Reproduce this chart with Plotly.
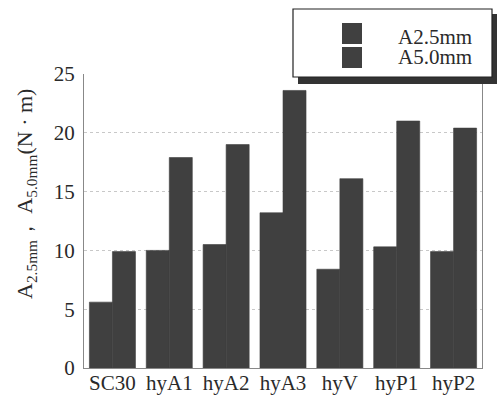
import plotly.graph_objects as go

categories = ["SC30", "hyA1", "hyA2", "hyA3", "hyV", "hyP1", "hyP2"]
a25 = [5.6, 10.0, 10.5, 13.2, 8.4, 10.3, 9.9]
a50 = [9.9, 17.9, 19.0, 23.6, 16.1, 21.0, 20.4]
series_names = ["A2.5mm", "A5.0mm"]
y_ticks = [0, 5, 10, 15, 20, 25]
y_title = "A<sub>2.5mm</sub>， A<sub>5.0mm</sub>(N · m)"

W, H = 499, 398
L, R, T, B = 84, 17, 74, 30
pw, ph = W - L - R, H - T - B

def px(x):
    return (x - L) / pw

def py(y):
    return (H - B - y) / ph

FONT = "Liberation Serif"
bar_color = "#404040"
text_color = "#2a2a2a"

fig = go.Figure()
for name, vals in zip(series_names, [a25, a50]):
    fig.add_trace(go.Bar(x=categories, y=vals, name=name, showlegend=False,
                         marker=dict(color=bar_color, line=dict(width=0.6, color=bar_color))))

# legend box (drawn manually to mimic the boxed, shadowed legend)
shapes = [
    dict(type="rect", xref="paper", yref="paper",
         x0=px(298), x1=px(497), y0=py(84), y1=py(14),
         fillcolor="#333333", line=dict(width=0), layer="above"),
    dict(type="rect", xref="paper", yref="paper",
         x0=px(293), x1=px(492), y0=py(77), y1=py(9),
         fillcolor="white", line=dict(color="#222222", width=1.2), layer="above"),
]
annotations = []
sq_tops = [23, 47]
text_mid = [37, 57]
for i, name in enumerate(series_names):
    shapes.append(dict(type="rect", xref="paper", yref="paper",
                       x0=px(342), x1=px(362), y0=py(sq_tops[i] + 21), y1=py(sq_tops[i]),
                       fillcolor=bar_color, line=dict(width=0), layer="above"))
    annotations.append(dict(text=name, xref="paper", yref="paper",
                            x=px(396), y=py(text_mid[i]), xanchor="left", yanchor="middle",
                            showarrow=False, font=dict(family=FONT, size=21, color=text_color)))

# y-axis title
annotations.append(dict(text=y_title, xref="paper", yref="paper",
                        x=px(26), y=py(194), xanchor="center", yanchor="middle",
                        textangle=-90, showarrow=False,
                        font=dict(family=FONT, size=22, color=text_color)))

fig.update_layout(
    width=W, height=H,
    margin=dict(l=L, r=R, t=T, b=B),
    paper_bgcolor="white", plot_bgcolor="white",
    barmode="group", bargap=0.19, bargroupgap=0,
    font=dict(family=FONT, size=21, color=text_color),
    showlegend=False,
    shapes=shapes,
    annotations=annotations,
    xaxis=dict(showline=True, linecolor="#888888", linewidth=1, automargin=False,
               ticks="", showgrid=False, tickfont=dict(size=21), ticklabelstandoff=-4),
    yaxis=dict(range=[0, 25], tickvals=y_ticks, showline=True, mirror=True,
               linecolor="#888888", linewidth=1, ticks="", automargin=False,
               showgrid=True, gridcolor="#c8c8c8", griddash="dot", gridwidth=1,
               zeroline=False, tickfont=dict(size=21), ticklabelstandoff=4),
)

fig.write_html("out.html", config={"displayModeBar": False},
               post_script="document.body.style.margin='0px';document.body.style.overflow='hidden';")
